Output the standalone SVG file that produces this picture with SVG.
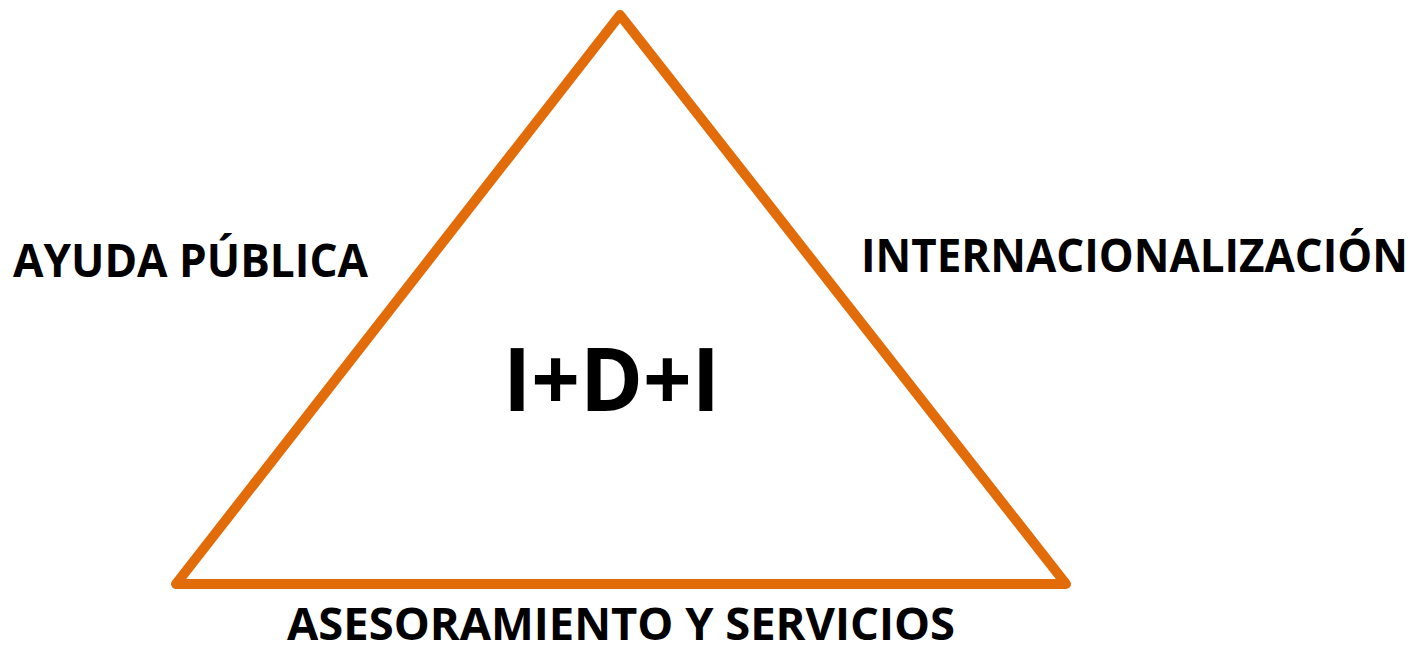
<svg xmlns="http://www.w3.org/2000/svg" width="1414" height="648" viewBox="0 0 1414 648">
<style>
.lbl{font-family:"Open Sans","Liberation Sans",sans-serif;font-weight:bold;fill:#000;}
.edge{fill:none;stroke:#E36C0A;stroke-width:10;stroke-linejoin:round;stroke-linecap:round;}
</style>
<rect width="1414" height="648" fill="#fff"/>
<g id="connectors">
<polygon class="edge" points="620,15 176,584 1066,584"/>
</g>
<g id="center"><text class="lbl" x="503" y="411" font-size="88" textLength="217" lengthAdjust="spacingAndGlyphs">I+D+I</text></g>
<g id="ayuda"><text class="lbl" x="13" y="277" font-size="47" textLength="355" lengthAdjust="spacingAndGlyphs">AYUDA PÚBLICA</text></g>
<g id="intern"><text class="lbl" x="861" y="272" font-size="47" textLength="547" lengthAdjust="spacingAndGlyphs">INTERNACIONALIZACIÓN</text></g>
<g id="asesor"><text class="lbl" x="287" y="640" font-size="45" textLength="668" lengthAdjust="spacingAndGlyphs">ASESORAMIENTO Y SERVICIOS</text></g>
</svg>
